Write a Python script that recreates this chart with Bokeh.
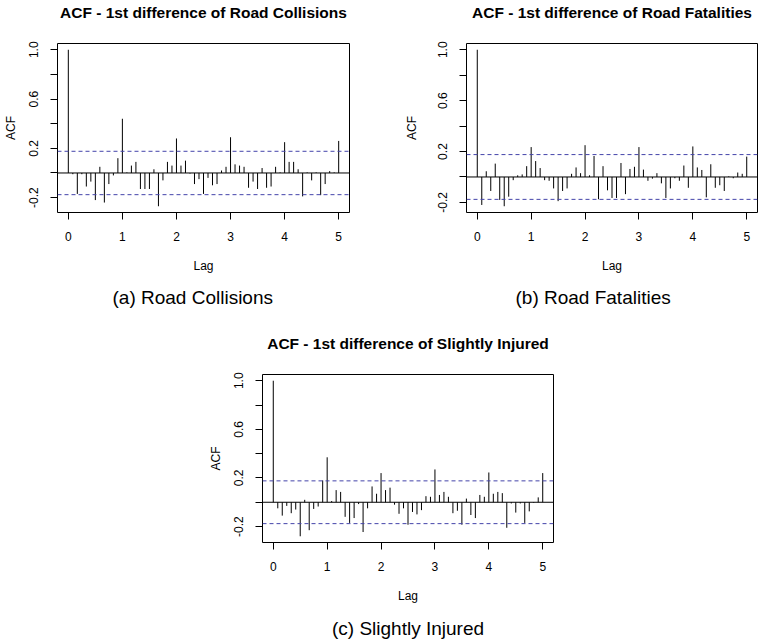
import numpy as np
from bokeh.plotting import figure
from bokeh.models import (ColumnDataSource, Span, Title, FixedTicker, Range1d, Spacer,
                          PrintfTickFormatter, LinearAxis)
from bokeh.layouts import row, column
from bokeh.embed import file_html
from bokeh.resources import INLINE

# ---------------- data ----------------
n_lags = 61
lags = (np.arange(n_lags) / 12.0).tolist()          # lag in years (monthly series)
x_ticks = [0, 1, 2, 3, 4, 5]
y_ticks_labelled = [-0.2, 0.2, 0.6, 1.0]
y_ticks_unlabelled = [0.0, 0.4, 0.8]
ci_bound = 0.176

acf_collisions = [1.0, -0.01, -0.17, -0.01, -0.11, -0.07, -0.22, 0.05, -0.24, -0.09, -0.02, 0.12,
                  0.44, 0.005, 0.06, 0.09, -0.13, -0.13, -0.13, 0.03, -0.27, -0.06, 0.09, 0.06,
                  0.28, 0.06, 0.10, -0.005, -0.09, -0.05, -0.17, -0.04, -0.10, -0.09, 0.02, 0.05,
                  0.29, 0.07, 0.06, 0.05, -0.12, -0.07, -0.13, 0.04, -0.12, -0.11, 0.05, 0.005,
                  0.25, 0.09, 0.09, 0.03, -0.19, 0.005, -0.06, 0.005, -0.18, -0.09, 0.015, 0.005,
                  0.26]

acf_fatalities = [1.0, -0.22, 0.045, -0.11, 0.105, -0.18, -0.23, -0.155, -0.025, 0.013, 0.02, 0.085,
                  0.235, 0.125, 0.07, -0.025, -0.03, -0.09, -0.19, -0.11, -0.09, 0.025, 0.075, 0.03,
                  0.25, 0.013, 0.165, -0.175, 0.085, -0.105, -0.165, -0.165, 0.11, -0.135, 0.063, 0.08,
                  0.235, 0.058, -0.03, -0.013, 0.03, -0.05, -0.165, -0.09, -0.01, -0.03, 0.09, -0.085,
                  0.24, 0.075, 0.055, -0.16, 0.10, -0.085, -0.065, -0.11, 0.005, -0.01, 0.035, 0.025,
                  0.16]

acf_injured = [1.0, -0.05, -0.11, -0.03, -0.09, -0.06, -0.28, 0.02, -0.23, -0.055, -0.035, 0.18,
               0.37, 0.01, 0.10, 0.085, -0.12, -0.17, -0.13, -0.015, -0.245, -0.05, 0.13, 0.07,
               0.24, 0.10, 0.12, -0.02, -0.095, -0.05, -0.185, -0.08, -0.10, -0.065, 0.05, 0.045,
               0.27, 0.06, 0.085, 0.045, -0.09, -0.07, -0.185, 0.03, -0.105, -0.13, 0.06, 0.045,
               0.245, 0.07, 0.085, 0.075, -0.21, -0.01, -0.085, -0.01, -0.17, -0.075, -0.005, 0.04,
               0.24]

titles = ["ACF - 1st difference of Road Collisions",
          "ACF - 1st difference of Road Fatalities",
          "ACF - 1st difference of Slightly Injured"]
captions = ["(a) Road Collisions", "(b) Road Fatalities", "(c) Slightly Injured"]

FONT = "Liberation Sans"
CI_COLOR = "#4444AA"


def text_axis(text, size, style, standoff):
    """An axis without ticks, used only to carry a line of text beside the frame."""
    ax = LinearAxis(ticker=FixedTicker(ticks=[], minor_ticks=[]))
    ax.axis_line_color = None
    ax.major_tick_line_color = None
    ax.minor_tick_line_color = None
    ax.major_tick_out = 0
    ax.major_tick_in = 0
    ax.minor_tick_out = 0
    ax.minor_tick_in = 0
    ax.major_label_standoff = 0
    ax.major_label_text_font_size = "0px"
    ax.axis_label = text
    ax.axis_label_text_font = FONT
    ax.axis_label_text_font_size = size
    ax.axis_label_text_font_style = style
    ax.axis_label_text_color = "black"
    ax.axis_label_standoff = standoff
    return ax


def make_acf(title, caption, acf, width, height, bl, br, bt, bb,
             title_standoff, acf_standoff, cap_mode, cap_value):
    lo = min(min(acf), -ci_bound)
    hi = max(max(acf), ci_bound)
    pad = 0.04 * (hi - lo)
    p = figure(width=width, height=height, output_backend="svg", toolbar_location=None,
               x_range=Range1d(-0.2, 5.2), y_range=Range1d(lo - pad, hi + pad),
               min_border_left=bl, min_border_right=br,
               min_border_top=bt, min_border_bottom=bb,
               background_fill_color="white", border_fill_color="white")
    p.title.visible = False
    p.xgrid.visible = False
    p.ygrid.visible = False
    p.outline_line_color = "black"
    p.outline_line_width = 1
    p.outline_line_alpha = 1.0

    # x axis
    xa = p.xaxis[0]
    xa.ticker = FixedTicker(ticks=x_ticks, minor_ticks=[])
    xa.axis_line_color = None
    xa.major_tick_in = 0
    xa.major_tick_out = 7
    xa.major_tick_line_color = "black"
    xa.major_label_standoff = 12
    xa.major_label_text_font = FONT
    xa.major_label_text_font_size = "12px"
    xa.major_label_text_color = "black"
    xa.axis_label = "Lag"
    xa.axis_label_text_font = FONT
    xa.axis_label_text_font_size = "12px"
    xa.axis_label_text_font_style = "normal"
    xa.axis_label_text_color = "black"
    xa.axis_label_standoff = 15

    # y axis
    ya = p.yaxis[0]
    ya.ticker = FixedTicker(ticks=y_ticks_labelled, minor_ticks=y_ticks_unlabelled)
    ya.formatter = PrintfTickFormatter(format="%.1f")
    ya.axis_line_color = None
    ya.major_tick_in = 0
    ya.major_tick_out = 7
    ya.minor_tick_in = 0
    ya.minor_tick_out = 7
    ya.major_tick_line_color = "black"
    ya.minor_tick_line_color = "black"
    ya.major_label_orientation = "vertical"
    ya.major_label_standoff = 12
    ya.major_label_text_font = FONT
    ya.major_label_text_font_size = "12px"
    ya.major_label_text_color = "black"
    ya.axis_label = "ACF"
    ya.axis_label_text_font = FONT
    ya.axis_label_text_font_size = "12px"
    ya.axis_label_text_font_style = "normal"
    ya.axis_label_text_color = "black"
    ya.axis_label_standoff = acf_standoff

    # main title, carried by a tick-less axis above the frame
    p.add_layout(text_axis(title, "15.5px", "bold", title_standoff), "above")

    p.add_layout(Span(location=0, dimension="width", line_color="black", line_width=1))
    p.add_layout(Span(location=ci_bound, dimension="width", line_color=CI_COLOR,
                      line_width=1, line_dash="4 3"))
    p.add_layout(Span(location=-ci_bound, dimension="width", line_color=CI_COLOR,
                      line_width=1, line_dash="4 3"))

    src = ColumnDataSource(dict(lag=lags, acf=acf))
    p.segment(x0="lag", y0=0, x1="lag", y1="acf", source=src,
              line_color="black", line_width=1)

    if cap_mode == "title":
        p.add_layout(Title(text=caption, align="left", offset=cap_value, text_font=FONT,
                           text_font_size="19px", text_font_style="normal",
                           text_color="black", standoff=19), "below")
    else:
        p.add_layout(text_axis(caption, "19px", "normal", cap_value), "below")
    return p


pa = make_acf(titles[0], captions[0], acf_collisions, 400, 320, 56, 51, 43, 108, 23, 9, "title", 55)
pb = make_acf(titles[1], captions[1], acf_fatalities, 358, 320, 66, 1, 43, 108, 23, 17, "title", 49)
pc = make_acf(titles[2], captions[2], acf_injured, 608, 321, 112, 205, 54, 99, 23, 9, "axis", 12)

layout = column(row(pa, pb), row(Spacer(width=150, height=321), pc))

open("out.html", "w").write(file_html(layout, INLINE))
